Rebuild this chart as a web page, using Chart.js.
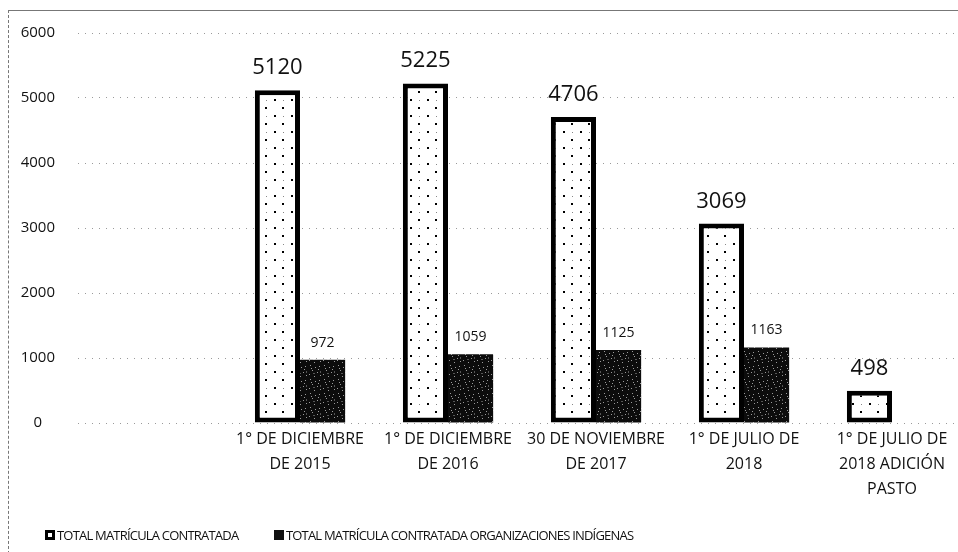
<!DOCTYPE html>
<html>
<head>
<meta charset="utf-8">
<script src="https://cdn.jsdelivr.net/npm/chart.js@4.4.1/dist/chart.umd.min.js"></script>
<style>
  html, body { margin: 0; padding: 0; background: #fff; }
  #marco { position: relative; width: 958px; height: 552px; overflow: hidden; }
  #borde { position: absolute; left: 8px; top: 10px; right: -2px; bottom: -2px;
           border-top: 1px solid #777; border-left: 1px dashed #777; }
  #caja { position: absolute; left: 0; top: 0; width: 980px; height: 552px; }
  #leyenda { position: absolute; left: 45px; top: 526px; font-family: 'Open Sans', sans-serif;
             font-size: 13px; letter-spacing: -0.8px; color: #111; white-space: nowrap; }
  #leyenda span.item { display: inline-flex; align-items: center; margin-right: 33px; }
  #leyenda i { display: inline-block; width: 10px; height: 10px; box-sizing: border-box; margin-right: 2px; }
  .blanco { background: #fff; border: 3px solid #000; }
  .negro { background: #111; }
</style>
</head>
<body>
<div id="marco">
  <div id="borde"></div>
  <div id="caja"><canvas id="grafico" width="980" height="552"></canvas></div>
  <div id="leyenda">
    <span class="item"><i class="blanco"></i>TOTAL MATRÍCULA CONTRATADA</span>
    <span class="item"><i class="negro"></i>TOTAL MATRÍCULA CONTRATADA ORGANIZACIONES INDÍGENAS</span>
  </div>
</div>
<script>
// primera categoria vacia, como en el grafico original
const categorias = [
  '',
  ['1° DE DICIEMBRE', 'DE 2015'],
  ['1° DE DICIEMBRE', 'DE 2016'],
  ['30 DE NOVIEMBRE', 'DE 2017'],
  ['1° DE JULIO DE', '2018'],
  ['1° DE JULIO DE', '2018 ADICIÓN', 'PASTO']
];
const matriculaTotal = [null, 5120, 5225, 4706, 3069, 498];
const matriculaIndigena = [null, 972, 1059, 1125, 1163, null];
const nombresSeries = ['TOTAL MATRÍCULA CONTRATADA', 'TOTAL MATRÍCULA CONTRATADA ORGANIZACIONES INDÍGENAS'];

function patronPuntos() {
  const c = document.createElement('canvas');
  c.width = 17; c.height = 16;
  const g = c.getContext('2d');
  g.fillStyle = '#fff';
  g.fillRect(0, 0, 17, 16);
  g.fillStyle = '#000';
  g.fillRect(2, 3, 2, 2);
  g.fillRect(10, 11, 2, 2);
  g.fillStyle = '#888';
  g.fillRect(11, 4, 1, 1);
  return g.createPattern(c, 'repeat');
}

function patronOscuro() {
  const c = document.createElement('canvas');
  c.width = 14; c.height = 14;
  const g = c.getContext('2d');
  g.fillStyle = '#0c0c0c';
  g.fillRect(0, 0, 14, 14);
  const motas = [[2,1],[7,3],[11,2],[4,6],[9,8],[1,10],[12,11],[6,12],[3,4],[10,5]];
  g.fillStyle = '#9a9a9a';
  motas.forEach(([x, y]) => g.fillRect(x, y, 1, 1));
  g.fillStyle = '#555';
  g.fillRect(5, 9, 2, 1);
  g.fillRect(12, 7, 1, 2);
  return g.createPattern(c, 'repeat');
}

const etiquetasDatos = {
  id: 'etiquetasDatos',
  afterDatasetsDraw(chart) {
    const ctx = chart.ctx;
    ctx.save();
    ctx.fillStyle = '#111';
    ctx.textAlign = 'center';
    ctx.textBaseline = 'alphabetic';
    chart.data.datasets.forEach((ds, di) => {
      const meta = chart.getDatasetMeta(di);
      ctx.font = di === 0 ? '22px "Open Sans"' : '14px "Open Sans"';
      meta.data.forEach((bar, i) => {
        const v = ds.data[i];
        if (v === null) return;
        ctx.fillText(String(v), bar.x, bar.y - (di === 0 ? 16 : 13));
      });
    });
    ctx.restore();
  }
};

const ctx = document.getElementById('grafico').getContext('2d');
new Chart(ctx, {
  type: 'bar',
  data: {
    labels: categorias,
    datasets: [
      {
        label: nombresSeries[0],
        data: matriculaTotal,
        backgroundColor: patronPuntos(),
        borderColor: '#000',
        borderWidth: 5,
        borderSkipped: false
      },
      {
        label: nombresSeries[1],
        data: matriculaIndigena,
        backgroundColor: patronOscuro(),
        borderWidth: 0
      }
    ]
  },
  options: {
    responsive: false,
    animation: false,
    devicePixelRatio: 1,
    categoryPercentage: 0.61,
    barPercentage: 1.0,
    layout: { padding: { top: 33, right: 14, bottom: 0, left: 0 } },
    plugins: { legend: { display: false }, tooltip: { enabled: false } },
    scales: {
      x: {
        grid: { display: false },
        border: { display: false },
        ticks: {
          color: '#111',
          font: { family: 'Open Sans', size: 16, lineHeight: 1.55 },
          padding: -4,
          maxRotation: 0,
          autoSkip: false
        },
        afterFit(scale) { scale.height = 129; }
      },
      y: {
        min: 0,
        max: 6000,
        grid: { color: '#9a9a9a', lineWidth: 1, drawTicks: false },
        border: { display: false, dash: [1, 6] },
        ticks: {
          stepSize: 1000,
          color: '#111',
          crossAlign: 'center',
          padding: 23,
          font: { family: 'Open Sans', size: 15 },
          callback: (v) => String(v)
        },
        afterFit(scale) { scale.width = 78; }
      }
    }
  },
  plugins: [etiquetasDatos]
});
</script>
</body>
</html>
